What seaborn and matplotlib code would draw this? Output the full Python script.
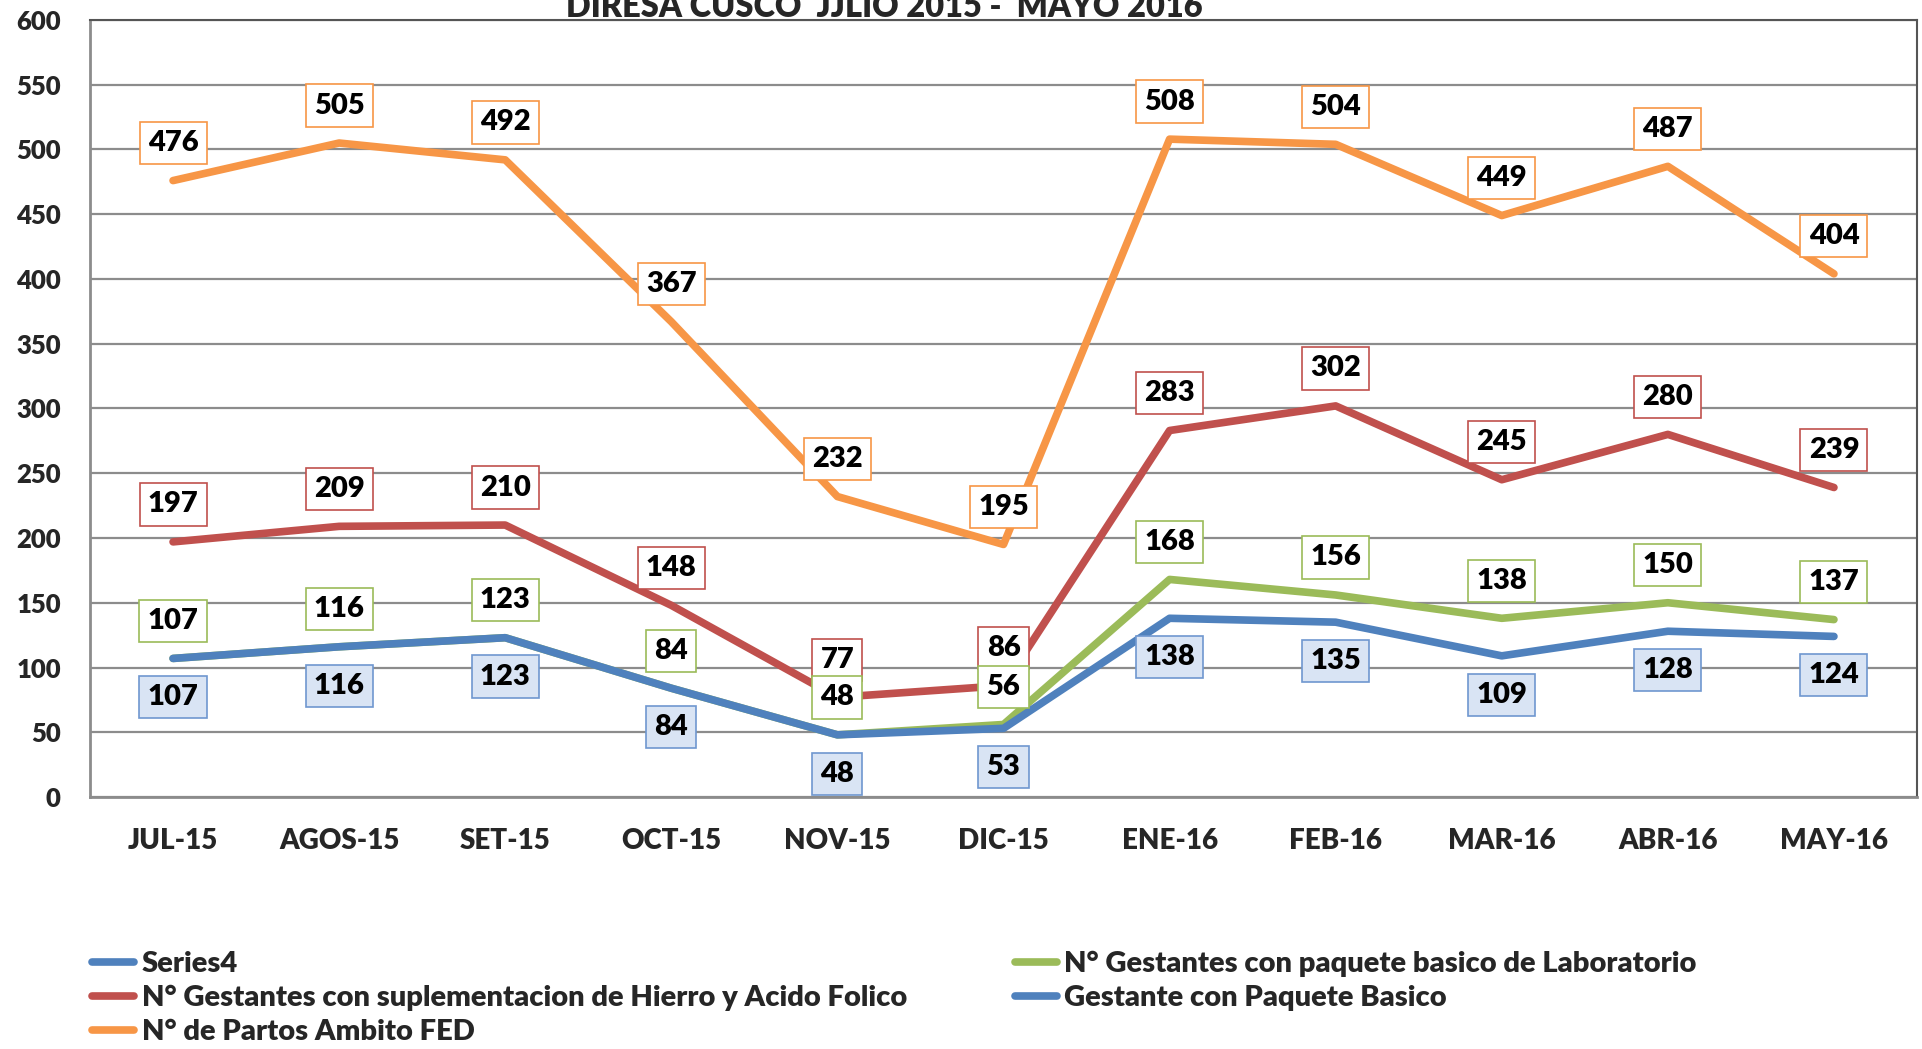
import matplotlib

matplotlib.use("Agg")
import matplotlib.pyplot as plt
import pandas as pd
import seaborn as sns
from matplotlib.lines import Line2D

# --- data ---
meses = ["JUL-15", "AGOS-15", "SET-15", "OCT-15", "NOV-15", "DIC-15",
         "ENE-16", "FEB-16", "MAR-16", "ABR-16", "MAY-16"]
hierro = [197, 209, 210, 148, 77, 86, 283, 302, 245, 280, 239]
partos = [476, 505, 492, 367, 232, 195, 508, 504, 449, 487, 404]
laboratorio = [107, 116, 123, 84, 48, 56, 168, 156, 138, 150, 137]
paquete_basico = [107, 116, 123, 84, 48, 53, 138, 135, 109, 128, 124]
y_ticks = list(range(0, 601, 50))

titulo = "DIRESA CUSCO  JJLIO 2015 -  MAYO 2016"
lbl_s4 = "Series4"
lbl_hierro = "N° Gestantes con suplementacion de Hierro y Acido Folico"
lbl_partos = "N° de Partos Ambito FED"
lbl_lab = "N° Gestantes con paquete basico de Laboratorio"
lbl_basico = "Gestante con Paquete Basico"

BLUE, RED, GREEN, ORANGE = "#4F81BD", "#C0504D", "#9BBB59", "#F79646"
W = "heavy"

series = {lbl_hierro: hierro, lbl_partos: partos, lbl_lab: laboratorio, lbl_basico: paquete_basico}
df = pd.concat(
    [pd.DataFrame({"mes": meses, "valor": vals, "serie": name}) for name, vals in series.items()],
    ignore_index=True,
)

sns.set_theme(style="white")
plt.rcParams["font.family"] = ["Lato", "DejaVu Sans"]
plt.rcParams["font.weight"] = W

fig = plt.figure(figsize=(19.22, 10.49), dpi=100)
ax = fig.add_axes([90 / 1922, 1 - 797 / 1049, (1917 - 90) / 1922, (797 - 20) / 1049])

palette = {lbl_hierro: RED, lbl_partos: ORANGE, lbl_lab: GREEN, lbl_basico: BLUE}
sns.lineplot(data=df, x="mes", y="valor", hue="serie", hue_order=[lbl_lab, lbl_basico, lbl_hierro, lbl_partos],
             palette=palette, linewidth=5.5, sort=False, legend=False, ax=ax, zorder=3)
# blue line sits on top of the green one
for ln in ax.lines:
    if ln.get_color() == BLUE:
        ln.set_zorder(4)

ax.set_xlim(-0.5, len(meses) - 0.5)
ax.set_ylim(0, 600)
ax.set_yticks(y_ticks)
ax.set_xlabel("")
ax.set_ylabel("")
ax.grid(axis="y", color="#8c8c8c", linewidth=1.6)
ax.set_axisbelow(True)
ax.tick_params(axis="y", length=0, pad=21, labelsize=18.5)
ax.tick_params(axis="x", length=0, pad=22, labelsize=20)
for lab in ax.get_xticklabels() + ax.get_yticklabels():
    lab.set_fontweight(W)
for side in ["left", "bottom"]:
    ax.spines[side].set_color("#8c8c8c")
    ax.spines[side].set_linewidth(2)
for side in ["top", "right"]:
    ax.spines[side].set_color("#555555")
    ax.spines[side].set_linewidth(1.5)


def etiquetas(vals, edge, face, dy):
    for i, v in enumerate(vals):
        ax.annotate(str(v), (i, v), xytext=(0, dy), textcoords="offset points",
                    ha="center", va="center", fontsize=21, fontweight=W, color="black",
                    zorder=6,
                    bbox=dict(boxstyle="square,pad=0.28", facecolor=face, edgecolor=edge, linewidth=1.2))


etiquetas(partos, ORANGE, "white", 27)
etiquetas(hierro, RED, "white", 27)
etiquetas(laboratorio, GREEN, "white", 27)
etiquetas(paquete_basico, "#6F97CF", "#D9E4F4", -28)

fig.text(0.46, 1 - 17 / 1049, titulo, ha="center", va="baseline", fontsize=23.5, fontweight=W)

handles = [
    Line2D([], [], color=BLUE, lw=5.5, label=lbl_s4),
    Line2D([], [], color=RED, lw=5.5, label=lbl_hierro),
    Line2D([], [], color=ORANGE, lw=5.5, label=lbl_partos),
    Line2D([], [], color=GREEN, lw=5.5, label=lbl_lab),
    Line2D([], [], color=BLUE, lw=5.5, label=lbl_basico),
]
fig.legend(handles=handles, loc="upper left", bbox_to_anchor=(92 / 1922, 1 - 951 / 1049), ncol=2,
           frameon=False, handlelength=1.45, handletextpad=0.25, labelspacing=0.27,
           columnspacing=3.7, borderpad=0, borderaxespad=0, prop={"weight": W, "size": 21})

fig.savefig("out.png", dpi=100)
